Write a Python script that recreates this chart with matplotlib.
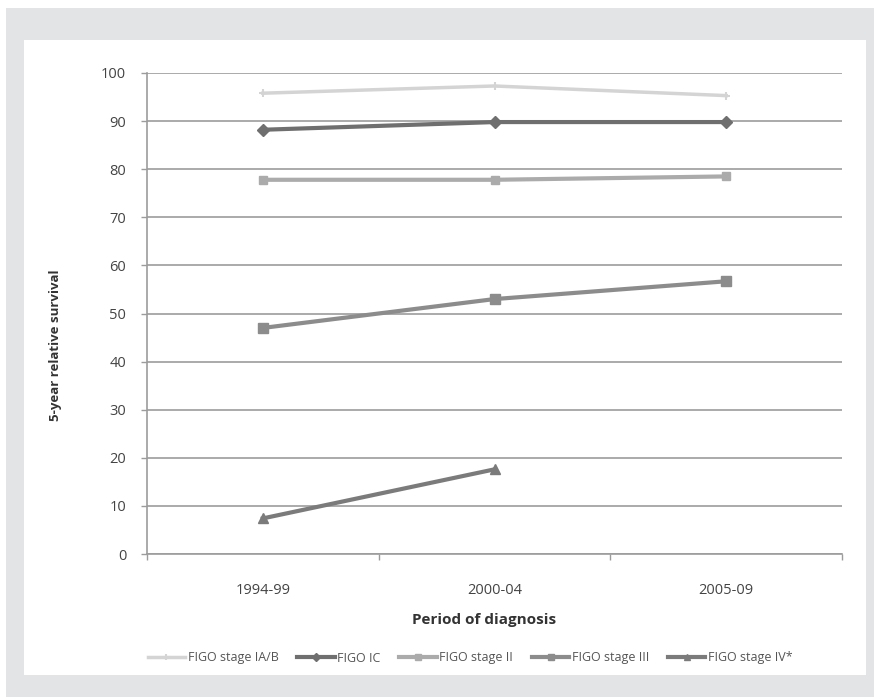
import matplotlib
matplotlib.use("Agg")
import matplotlib.pyplot as plt
from matplotlib.patches import Rectangle

plt.rcParams['font.family'] = ['Open Sans', 'DejaVu Sans']

periods = ["1994-99", "2000-04", "2005-09"]
stage_ia_b = [95.8, 97.3, 95.3]
stage_ic = [88.2, 89.8, 89.8]
stage_ii = [77.8, 77.8, 78.5]
stage_iii = [47.0, 53.0, 56.7]
stage_iv = [7.4, 17.6]
yticks = [0, 10, 20, 30, 40, 50, 60, 70, 80, 90, 100]

W, H = 874, 697
fig = plt.figure(figsize=(W / 100, H / 100), dpi=100)
fig.patch.set_facecolor('white')

# gray frame and white panel
fig.add_artist(Rectangle((6 / W, 0), 1 - 6 / W, 1 - 8 / H, transform=fig.transFigure,
                         facecolor='#e3e4e6', edgecolor='none', zorder=-10))
fig.add_artist(Rectangle((24 / W, 1 - 675 / H), (866 - 24) / W, (675 - 40) / H,
                         transform=fig.transFigure, facecolor='white',
                         edgecolor='none', zorder=-9))

ax = fig.add_axes([147 / W, 1 - 554 / H, (842 - 147) / W, (554 - 73) / H])
ax.set_facecolor('none')

x = list(range(len(periods)))
ax.plot(x, stage_ia_b, color='#d4d4d4', lw=2.5, marker='+', ms=6, mew=1.5,
        label='FIGO stage IA/B', zorder=3)
ax.plot(x, stage_ic, color='#6f6f6f', lw=3, marker='D', ms=6,
        label='FIGO IC', zorder=4)
ax.plot(x, stage_ii, color='#ababab', lw=3, marker='s', ms=6,
        label='FIGO stage II', zorder=3)
ax.plot(x, stage_iii, color='#8c8c8c', lw=3, marker='s', ms=7,
        label='FIGO stage III', zorder=3)
ax.plot(x[:len(stage_iv)], stage_iv, color='#7b7b7b', lw=3, marker='^', ms=7,
        label='FIGO stage IV*', zorder=3)

ax.set_xlim(-0.5, len(periods) - 0.5)
ax.set_ylim(0, 100)
ax.set_yticks(yticks)
ax.set_yticklabels([str(v) for v in yticks])
ax.set_xticks(x)
ax.set_xticklabels(periods)
ax.set_xticks([-0.5, 0.5, 1.5, 2.5], minor=True)

ax.yaxis.grid(True, color='#9c9c9c', lw=1.2)
ax.set_axisbelow(True)
for s in ['top', 'right']:
    ax.spines[s].set_visible(False)
ax.spines['left'].set_color('#9c9c9c')
ax.spines['left'].set_linewidth(1.2)
ax.spines['bottom'].set_color('#9c9c9c')
ax.spines['bottom'].set_linewidth(1.2)

ax.tick_params(axis='y', length=4, width=1, color='#9c9c9c', pad=11,
               labelsize=10.5, labelcolor='#444444')
ax.tick_params(axis='x', which='major', length=0, pad=21,
               labelsize=10.5, labelcolor='#444444')
ax.tick_params(axis='x', which='minor', length=4, width=1, color='#9c9c9c')

fig.text(55 / W, 1 - 345 / H, '5-year relative survival', rotation=90,
         ha='center', va='center', fontsize=9.5, fontweight='bold', color='#333333')
fig.text(484 / W, 1 - 620 / H, 'Period of diagnosis', ha='center', va='center',
         fontsize=11, fontweight='bold', color='#333333')

fig.legend(loc='center', bbox_to_anchor=(470 / W, 1 - 658 / H), ncol=5,
           frameon=False, fontsize=9, handlelength=3.0, handletextpad=0.2,
           columnspacing=1.5, labelcolor='#555555', markerscale=0.7)

fig.savefig('out.png', dpi=100)
